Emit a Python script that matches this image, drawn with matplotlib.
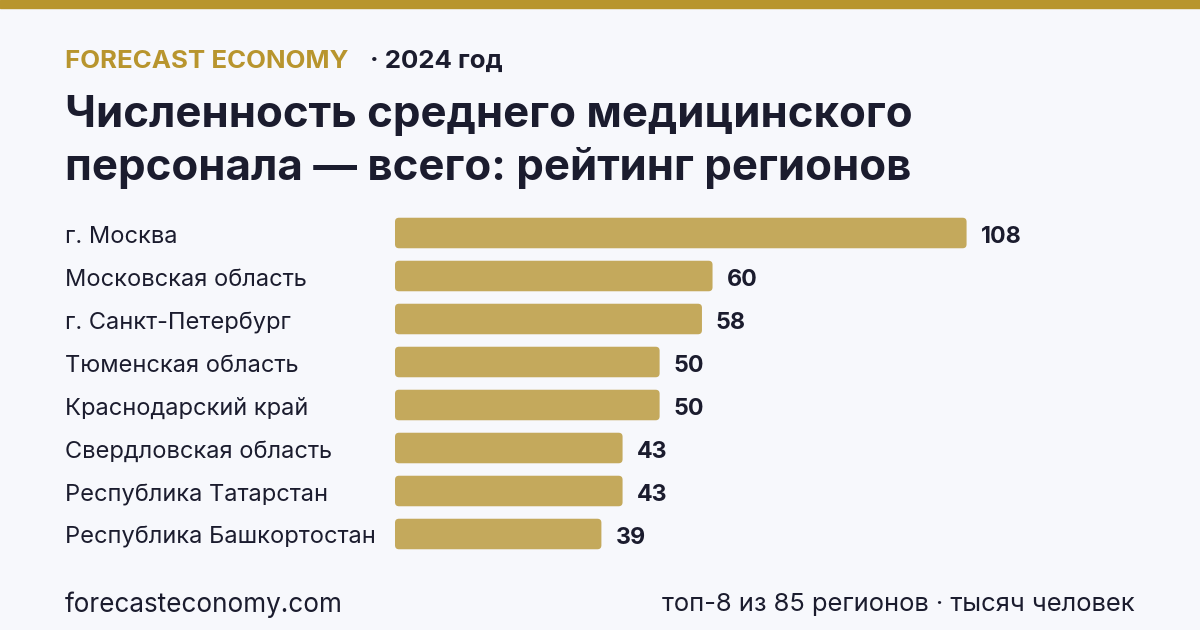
import matplotlib.pyplot as plt
from matplotlib.patches import FancyBboxPatch
from matplotlib.transforms import blended_transform_factory, offset_copy

regions = ["г. Москва", "Московская область", "г. Санкт-Петербург", "Тюменская область",
           "Краснодарский край", "Свердловская область", "Республика Татарстан",
           "Республика Башкортостан"]
values = [108, 60, 58, 50, 50, 43, 43, 39]

BG = "#f7f8fc"
GOLD = "#b8952e"
BAR = "#c4a95c"
INK = "#1b1c2e"

plt.rcParams['font.family'] = ['Inter', 'DejaVu Sans']

fig = plt.figure(figsize=(12, 6.3), dpi=100, facecolor=BG)

# gold band on top
fig.patches.append(plt.Rectangle((0, 1 - 8 / 630), 1, 8 / 630, transform=fig.transFigure,
                                 color=GOLD, zorder=0))

fig.text(65 / 1200, 1 - 61 / 630, "FORECAST ECONOMY", color=GOLD, fontsize=18.6,
         fontweight="bold", va="center", ha="left")
fig.text(370 / 1200, 1 - 61 / 630, "· 2024 год", color=INK, fontsize=18.6,
         fontweight="bold", va="center", ha="left")
fig.text(65 / 1200, 1 - 116 / 630, "Численность среднего медицинского", color=INK,
         fontsize=31.5, fontweight="bold", va="center", ha="left")
fig.text(65 / 1200, 1 - 168 / 630, "персонала — всего: рейтинг регионов", color=INK,
         fontsize=31.5, fontweight="bold", va="center", ha="left")

ax = fig.add_axes([395 / 1200, 1 - 555.5 / 630, 688 / 1200, 344 / 630])
ax.set_facecolor(BG)
ypos = list(range(len(values)))
bars = ax.barh(ypos, values, height=0.71, color=BAR)
ax.set_xlim(0, 130)
ax.set_ylim(len(values) - 0.5, -0.5)
ax.axis("off")

# swap plain bars for ones with small rounded corners
px_x = 688 / 130
px_y = 344 / len(values)
for b in bars:
    x0, y0, w, h = b.get_x(), b.get_y(), b.get_width(), b.get_height()
    b.set_visible(False)
    ax.add_patch(FancyBboxPatch((x0, y0), w, h,
                                boxstyle="round,pad=0,rounding_size=%f" % (4 / px_x),
                                mutation_aspect=px_x / px_y, fc=BAR, ec="none"))

val_trans = offset_copy(ax.transData, fig=fig, x=14, y=-10, units="dots")
for y, v in zip(ypos, values):
    ax.text(v, y, str(v), transform=val_trans, va="baseline", ha="left",
            fontsize=16.7, fontweight="bold", color=INK)

lab_trans = offset_copy(blended_transform_factory(fig.transFigure, ax.transData),
                        fig=fig, x=0, y=-10, units="dots")
for y, name in zip(ypos, regions):
    ax.text(65 / 1200, y, name, transform=lab_trans, va="baseline", ha="left",
            fontsize=17, color=INK)

fig.text(65 / 1200, 1 - 605 / 630, "forecasteconomy.com", color=INK, fontsize=18.8,
         va="center", ha="left")
fig.text(1135 / 1200, 1 - 605 / 630, "топ-8 из 85 регионов · тысяч человек", color=INK,
         fontsize=18.4, va="center", ha="right")

fig.savefig("out.png", dpi=100, facecolor=BG)
